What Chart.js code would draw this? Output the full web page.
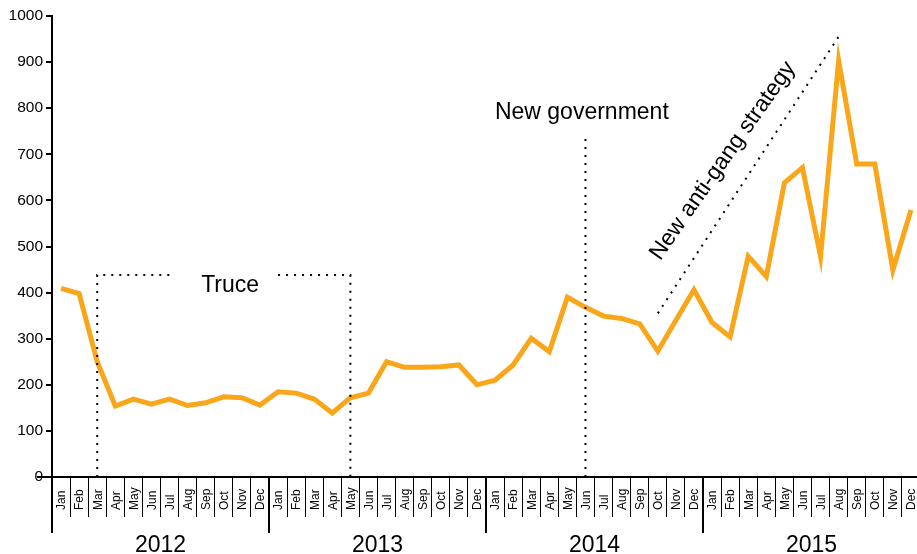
<!DOCTYPE html>
<html>
<head>
<meta charset="utf-8">
<script src="https://cdn.jsdelivr.net/npm/chart.js@4/dist/chart.umd.min.js"></script>
<style>
html, body { margin: 0; padding: 0; overflow: hidden; background: #fff; }
#wrap { width: 920px; height: 554px; position: relative; }
</style>
</head>
<body>
<div id="wrap"><canvas id="c"></canvas></div>
<script>
// ---- data ----
const months = ['Jan','Feb','Mar','Apr','May','Jun','Jul','Aug','Sep','Oct','Nov','Dec'];
const years = ['2012','2013','2014','2015'];
const killings2012 = [409, 398, 250, 154, 169, 158, 169, 155, 161, 174, 172, 156];
const killings2013 = [185, 182, 169, 139, 172, 182, 250, 238, 238, 239, 243, 200];
const killings2014 = [210, 243, 301, 272, 390, 368, 349, 344, 332, 273, 340, 406];
const killings2015 = [335, 304, 479, 435, 638, 671, 478, 903, 679, 679, 449, 579];
const yTicks = [0, 100, 200, 300, 400, 500, 600, 700, 800, 900, 1000];

// annotation definitions (data coordinates)
const truceStart = 'Mar 2012', truceEnd = 'May 2013', truceLevel = 438;
const truceGapLeft = 'Jul 2012', truceGapRight = 'Jan 2013';
const govMonth = 'Jun 2014', govLevel = 746;
const gangStart = 'Oct 2014', gangStartLevel = 355;
const gangEnd = 'Aug 2015', gangEndLevel = 955;
const textLabels = [
  { text: 'Truce', x: 9.35, y: 402, rot: 0 },
  { text: 'New government', x: 28.8, y: 777, rot: 0 },
  { text: 'New anti-gang strategy', x: 36.6, y: 686, rot: -55 }
];

const labels = [];
years.forEach(y => months.forEach(m => labels.push(m + ' ' + y)));
const series = [].concat(killings2012, killings2013, killings2014, killings2015);

const FONT = "'Liberation Sans', Arial, Helvetica, sans-serif";
const dotted = {
  borderColor: '#000', borderWidth: 2, borderDash: [2, 6], pointRadius: 0,
  fill: false, tension: 0, order: 0, borderCapStyle: 'butt'
};

const drawExtras = {
  id: 'drawExtras',
  afterDraw(chart) {
    const ctx = chart.ctx;
    const x = chart.scales.x, y = chart.scales.y, x2 = chart.scales.x2;
    ctx.save();
    ctx.fillStyle = '#000';
    // month labels (bottom aligned, reading upward)
    ctx.font = '12px ' + FONT;
    ctx.textAlign = 'left';
    ctx.textBaseline = 'middle';
    labels.forEach((l, i) => {
      const px = x.getPixelForValue(i);
      ctx.save();
      ctx.translate(px + 1, 510);
      ctx.rotate(-Math.PI / 2);
      ctx.fillText(months[i % 12], 0, 0);
      ctx.restore();
    });
    // year labels
    ctx.font = '23px ' + FONT;
    ctx.textAlign = 'center';
    ctx.textBaseline = 'alphabetic';
    years.forEach((yr, i) => {
      ctx.fillText(yr, x2.getPixelForValue(i), 552);
    });
    // zero tick extension
    ctx.strokeStyle = '#000';
    ctx.lineWidth = 2;
    const y0 = y.getPixelForValue(0);
    ctx.beginPath();
    ctx.moveTo(37, y0);
    ctx.lineTo(chart.chartArea.left, y0);
    ctx.stroke();
    // annotation texts
    ctx.font = '23px ' + FONT;
    textLabels.forEach(t => {
      const px = x.getPixelForValue(t.x), py = y.getPixelForValue(t.y);
      ctx.save();
      ctx.translate(px, py);
      if (t.rot) {
        ctx.rotate(t.rot * Math.PI / 180);
        ctx.textBaseline = 'middle';
      } else {
        ctx.textBaseline = 'alphabetic';
      }
      ctx.textAlign = 'center';
      ctx.fillText(t.text, 0, 0);
      ctx.restore();
    });
    ctx.restore();
  }
};

new Chart(document.getElementById('c'), {
  type: 'line',
  data: {
    labels: labels,
    datasets: [
      Object.assign({ data: [{x: truceStart, y: 0}, {x: truceStart, y: truceLevel}, {x: truceGapLeft, y: truceLevel}] }, dotted),
      Object.assign({ data: [{x: truceGapRight, y: truceLevel}, {x: truceEnd, y: truceLevel}, {x: truceEnd, y: 0}] }, dotted),
      Object.assign({ data: [{x: govMonth, y: 0}, {x: govMonth, y: govLevel}] }, dotted),
      Object.assign({ data: [{x: gangStart, y: gangStartLevel}, {x: gangEnd, y: gangEndLevel}] }, dotted),
      {
        data: series,
        borderColor: '#FAA61A',
        borderWidth: 5,
        pointRadius: 0,
        tension: 0,
        fill: false,
        borderJoinStyle: 'miter',
        order: 1
      }
    ]
  },
  options: {
    responsive: true,
    maintainAspectRatio: false,
    animation: false,
    events: [],
    layout: { padding: { top: 16, left: 0, right: 0, bottom: 0 } },
    plugins: { legend: { display: false }, tooltip: { enabled: false } },
    scales: {
      x: {
        type: 'category',
        position: 'bottom',
        offset: true,
        weight: 0,
        grid: {
          offset: true,
          drawOnChartArea: false,
          drawTicks: true,
          tickLength: 40,
          color: '#000',
          lineWidth: ctx => (ctx.index % 12 === 0 ? 2 : 1)
        },
        border: { display: true, color: '#000', width: 2 },
        ticks: { display: false, autoSkip: false },
        afterFit: s => { s.height = 40; }
      },
      x2: {
        type: 'category',
        labels: years,
        position: 'bottom',
        offset: true,
        weight: 1,
        grid: {
          offset: true,
          drawOnChartArea: false,
          drawTicks: true,
          tickLength: 16,
          color: '#000',
          lineWidth: 2
        },
        border: { display: false },
        ticks: { display: false },
        afterFit: s => { s.height = 37; }
      },
      y: {
        min: 0,
        max: 1000,
        afterBuildTicks: s => { s.ticks = yTicks.map(v => ({ value: v })); },
        grid: {
          drawOnChartArea: false,
          drawTicks: true,
          tickLength: 6,
          color: '#000',
          lineWidth: 2
        },
        border: { display: true, color: '#000', width: 2 },
        ticks: {
          color: '#000',
          padding: 3,
          font: { family: FONT, size: 15.5 },
          callback: v => String(v)
        },
        afterFit: s => { s.width = 52; }
      }
    }
  },
  plugins: [drawExtras]
});
</script>
</body>
</html>
